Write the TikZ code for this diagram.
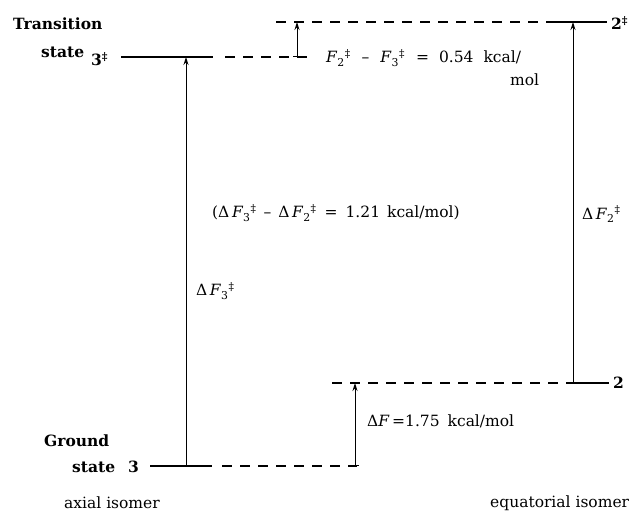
\documentclass[tikz,border=0pt]{standalone}
\usepackage{fontspec}
\setmainfont{DejaVu Serif}
\usetikzlibrary{arrows.meta}
\newcommand{\vF}{\textit{F}}
\newcommand{\dg}{\textsuperscript{‡}}
\newcommand{\sbs}[1]{\textsubscript{#1}}
\newcommand{\gp}[1]{\hspace{#1pt}}
\begin{document}
\begin{tikzpicture}[x=1pt,y=-1pt,
  lvl/.style={line width=1.3pt},
  dsh/.style={line width=1.1pt,dash pattern=on 10pt off 8pt},
  arr/.style={line width=0.9pt,-{Stealth[length=8pt,width=5pt]}},
  barr/.style={line width=0.9pt,{Bar[width=8pt]}-{Stealth[length=8pt,width=5pt]}},
  lab/.style={font=\fontsize{15.5}{18}\selectfont,inner sep=0pt},
  blab/.style={font=\fontsize{15.5}{18}\selectfont\bfseries,inner sep=0pt}]
\useasboundingbox (0,0) rectangle (632,512);
% text labels
\node[blab,anchor=west] (ts1) at (13,24) {Transition};
\node[blab,anchor=west] (ts2) at (41,52) {state};
\node[blab,anchor=west] (t3) at (91,59) {3\dg};
\node[blab,anchor=west] (t2) at (611,23) {2\dg};
\node[blab,anchor=west] (gs1) at (44,441) {Ground};
\node[blab,anchor=west] (gs2) at (72,467) {state};
\node[blab,anchor=west] (g3) at (128,467) {3};
\node[blab,anchor=west] (g2) at (613,383) {2};
% level coordinates
\coordinate (a1) at (121,57); \coordinate (a2) at (213,57); \coordinate (a3) at (312,57);
\coordinate (b1) at (276,22); \coordinate (b2) at (550,22); \coordinate (b3) at (607,22);
\coordinate (c1) at (150,466); \coordinate (c2) at (212,466); \coordinate (c3) at (357,466);
\coordinate (d1) at (332,383); \coordinate (d2) at (570,383); \coordinate (d3) at (609,383);
% levels
\draw[lvl] (a1) -- (a2);
\draw[dsh] (a2) ++(12,0) -- (a3);
\draw[dsh] (b1) -- (b2);
\draw[lvl] (b2) -- (b3);
\draw[lvl] (c1) -- (c2);
\draw[dsh] (c2) ++(10,0) -- (c3);
\draw[dsh] (d1) -- (d2);
\draw[lvl] (d2) -- (d3);
% arrows
\coordinate (p1) at (186,466); \coordinate (p2) at (186,57);
\draw[arr] (p1) -- (p2);
\coordinate (q1) at (573,383); \coordinate (q2) at (573,22);
\draw[arr] (q1) -- (q2);
\coordinate (r1) at (297,57); \coordinate (r2) at (297,22);
\draw[barr] (r1) -- (r2);
\coordinate (s1) at (355,466); \coordinate (s2) at (355,383);
\draw[barr] (s1) -- (s2);
% value labels
\node[lab,anchor=west] (l1) at (326,58) {\vF\sbs{2}\dg\gp{11}–\gp{11}\vF\sbs{3}\dg\gp{11}=\gp{10}0.54\gp{10}kcal/};
\node[lab,anchor=west] (l1b) at (510,80) {mol};
\node[lab,anchor=west] (l2) at (212,213) {(Δ\,\vF\sbs{3}\dg\gp{7}–\gp{7}Δ\,\vF\sbs{2}\dg\gp{8}=\gp{8}1.21\gp{7}kcal/mol)};
\node[lab,anchor=west] (l3) at (582,214) {Δ\,\vF\sbs{2}\dg};
\node[lab,anchor=west] (l4) at (196,291) {Δ\,\vF\sbs{3}\dg};
\node[lab,anchor=west] (l5) at (367,421) {Δ\vF\,=1.75\gp{8}kcal/mol};
\node[lab,anchor=west] (ax) at (64,503) {axial isomer};
\node[lab,anchor=west] (eq) at (490,503) {equatorial isomer};
\end{tikzpicture}
\end{document}
